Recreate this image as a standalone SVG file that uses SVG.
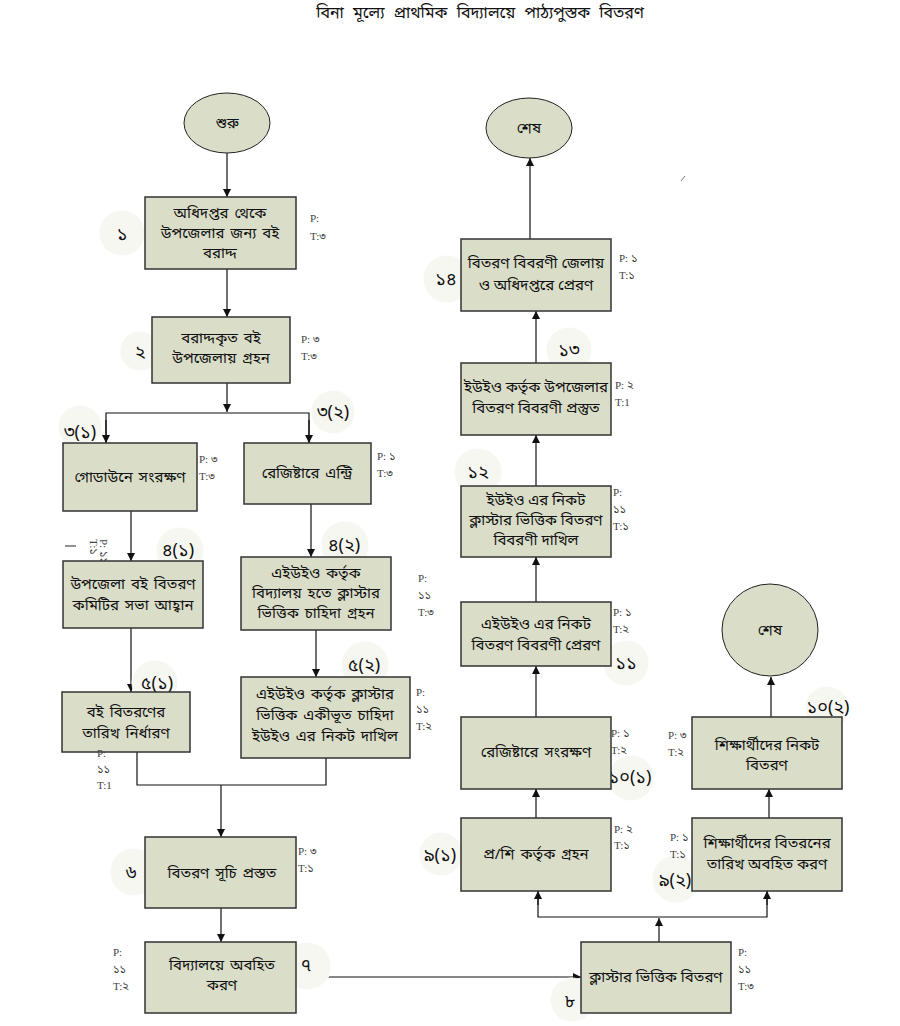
<svg xmlns="http://www.w3.org/2000/svg" width="900" height="1026" viewBox="0 0 900 1026">
<defs>
<marker id="ah" viewBox="0 0 10 10" refX="10" refY="5" markerWidth="8" markerHeight="8" markerUnits="userSpaceOnUse" orient="auto"><path d="M0,0 L10,5 L0,10 z" fill="#111"/></marker>
<style>
.box{fill:#dadec9;stroke:#333;stroke-width:1.5}
.term{fill:#dadec9;stroke:#222;stroke-width:1}
.t{font-family:"Noto Sans Bengali","Noto Serif Bengali","Lohit Bengali","Noto Sans",sans-serif;font-size:15px;word-spacing:2px;fill:#111;text-anchor:middle}
.tn{word-spacing:0px}
.pt{font-family:"Liberation Serif","Noto Sans Bengali",serif;font-size:11px;fill:#444}
.num{font-family:"Noto Sans Bengali","Noto Serif Bengali","Noto Sans",sans-serif;font-size:18px;fill:#111;text-anchor:middle}
.lc{fill:#f7f7f2;stroke:#fff;stroke-width:1}
.c{fill:none;stroke:#111;stroke-width:1.2}
.ca{fill:none;stroke:#111;stroke-width:1.2;marker-end:url(#ah)}
</style>
</defs>
<rect width="900" height="1026" fill="#fff"/>
<text x="480" y="18" class="t" style="font-size:16px;word-spacing:5px">বিনা মূল্যে প্রাথমিক বিদ্যালয়ে পাঠ্যপুস্তক বিতরণ</text>
<g id="connectors">
<line class="ca" x1="227" y1="153" x2="227" y2="197"/>
<line class="ca" x1="227" y1="269" x2="227" y2="317"/>
<line class="ca" x1="227" y1="383" x2="227" y2="412"/>
<polyline class="c" points="106,443 106,413 309,413 309,443"/>
<line class="ca" x1="106" y1="420" x2="106" y2="443"/>
<line class="ca" x1="309" y1="420" x2="309" y2="443"/>
<line class="ca" x1="131" y1="511" x2="131" y2="561"/>
<line class="ca" x1="311" y1="504" x2="311" y2="557"/>
<line class="ca" x1="131" y1="628" x2="131" y2="692"/>
<line class="ca" x1="316" y1="630" x2="316" y2="677"/>
<polyline class="c" points="137,752 137,785 326,785 326,758"/>
<line class="ca" x1="221" y1="785" x2="221" y2="837"/>
<line class="ca" x1="221" y1="908" x2="221" y2="942"/>
<line class="ca" x1="296" y1="977" x2="581" y2="977"/>
<line class="ca" x1="659" y1="942" x2="659" y2="918"/>
<polyline class="c" points="538,891 538,917 767,917 767,891"/>
<line class="ca" x1="538" y1="905" x2="538" y2="891"/>
<line class="ca" x1="767" y1="905" x2="767" y2="891"/>
<line class="ca" x1="536" y1="818" x2="536" y2="789"/>
<line class="ca" x1="769" y1="818" x2="769" y2="789"/>
<line class="ca" x1="771" y1="717" x2="771" y2="677"/>
<line class="ca" x1="536" y1="717" x2="536" y2="666"/>
<line class="ca" x1="536" y1="602" x2="536" y2="557"/>
<line class="ca" x1="536" y1="486" x2="536" y2="435"/>
<line class="ca" x1="536" y1="363" x2="536" y2="311"/>
<line class="ca" x1="530" y1="239" x2="530" y2="158"/>
</g>
<line x1="681" y1="181" x2="685" y2="176" stroke="#777" stroke-width="1"/>
<g id="start">
<ellipse class="term" cx="227" cy="123" rx="43" ry="30"/>
<text class="t" x="227" y="128">শুরু</text>
</g>
<g id="end1">
<ellipse class="term" cx="529" cy="128" rx="43" ry="30"/>
<text class="t" x="529" y="133">শেষ</text>
</g>
<g id="end2">
<ellipse class="term" cx="770" cy="630" rx="48" ry="46"/>
<text class="t" x="770" y="635">শেষ</text>
</g>
<g id="n1">
<circle class="lc" cx="122" cy="233" r="23"/>
<text class="num" x="122" y="240" font-size="20">১</text>
<rect class="box" x="145" y="197" width="151" height="72"/>
<text class="t" x="220" y="218">অধিদপ্তর থেকে</text>
<text class="t" x="220" y="238">উপজেলার জন্য বই</text>
<text class="t" x="220" y="258">বরাদ্দ</text>
<text class="pt" x="310" y="222">P:</text>
<text class="pt" x="310" y="240">T:৩</text>
</g>
<g id="n2">
<circle class="lc" cx="140" cy="351" r="20"/>
<text class="num" x="140" y="358" font-size="20">২</text>
<rect class="box" x="152" y="317" width="138" height="66"/>
<text class="t" x="221" y="343">বরাদ্দকৃত বই</text>
<text class="t" x="221" y="363">উপজেলায় গ্রহন</text>
<text class="pt" x="301" y="343">P: ৩</text>
<text class="pt" x="301" y="360">T:৩</text>
</g>
<g id="n3a">
<circle class="lc" cx="80" cy="427" r="22"/>
<text class="num" x="80" y="438">৩(১)</text>
<rect class="box" x="63" y="443" width="134" height="68"/>
<text class="t" x="130" y="482">গোডাউনে সংরক্ষণ</text>
<text class="pt" x="199" y="463">P: ৩</text>
<text class="pt" x="199" y="480">T:৩</text>
</g>
<g id="n3b">
<circle class="lc" cx="333" cy="412" r="22"/>
<text class="num" x="333" y="418">৩(২)</text>
<rect class="box" x="244" y="443" width="127" height="61"/>
<text class="t" x="307" y="478">রেজিষ্টারে এন্ট্রি</text>
<text class="pt" x="377" y="460">P: ১</text>
<text class="pt" x="377" y="477">T:৩</text>
</g>
<g id="n4a">
<circle class="lc" cx="180" cy="551" r="24"/>
<text class="num" x="178" y="556">৪(১)</text>
<line x1="65" y1="546" x2="76" y2="546" stroke="#222" stroke-width="1"/>
<text class="pt" font-size="9" transform="translate(90,539) rotate(90)">T:১</text>
<text class="pt" font-size="9" transform="translate(100,539) rotate(90)">P: ১১</text>
<rect class="box" x="63" y="561" width="140" height="67"/>
<text class="t" x="133" y="589">উপজেলা বই বিতরণ</text>
<text class="t" x="133" y="610">কমিটির সভা আহ্বান</text>
</g>
<g id="n4b">
<circle class="lc" cx="345" cy="545" r="24"/>
<text class="num" x="344" y="551">৪(২)</text>
<rect class="box" x="241" y="557" width="150" height="73"/>
<text class="t" x="316" y="578">এইউইও কর্তৃক</text>
<text class="t" x="316" y="598">বিদ্যালয় হতে ক্লাস্টার</text>
<text class="t" x="316" y="618">ভিত্তিক চাহিদা গ্রহন</text>
<text class="pt" x="418" y="582">P:</text>
<text class="pt" x="418" y="599">১১</text>
<text class="pt" x="418" y="616">T:৩</text>
</g>
<g id="n5a">
<circle class="lc" cx="155" cy="683" r="23"/>
<text class="num" x="157" y="689">৫(১)</text>
<rect class="box" x="62" y="692" width="128" height="60"/>
<text class="t" x="126" y="717">বই বিতরণের</text>
<text class="t" x="126" y="738">তারিখ নির্ধারণ</text>
<text class="pt" x="97" y="757">P:</text>
<text class="pt" x="97" y="773">১১</text>
<text class="pt" x="97" y="789">T:1</text>
</g>
<g id="n5b">
<circle class="lc" cx="365" cy="665" r="24"/>
<text class="num" x="364" y="671">৫(২)</text>
<rect class="box" x="241" y="677" width="169" height="81"/>
<text class="t" x="325" y="699">এইউইও কর্তৃক ক্লাস্টার</text>
<text class="t" x="325" y="720">ভিত্তিক একীভূত চাহিদা</text>
<text class="t" x="325" y="741">ইউইও এর নিকট দাখিল</text>
<text class="pt" x="416" y="696">P:</text>
<text class="pt" x="416" y="713">১১</text>
<text class="pt" x="416" y="730">T:২</text>
</g>
<g id="n6">
<circle class="lc" cx="134" cy="872" r="24"/>
<text class="num" x="131" y="878">৬</text>
<rect class="box" x="145" y="837" width="151" height="71"/>
<text class="t" x="222" y="878">বিতরণ সূচি প্রস্তত</text>
<text class="pt" x="298" y="855">P: ৩</text>
<text class="pt" x="298" y="872">T:১</text>
</g>
<g id="n7">
<circle class="lc" cx="307" cy="966" r="24"/>
<text class="num" x="306" y="971">৭</text>
<rect class="box" x="145" y="942" width="151" height="71"/>
<text class="t" x="222" y="970">বিদ্যালয়ে অবহিত</text>
<text class="t" x="222" y="990">করণ</text>
<text class="pt" x="113" y="956">P:</text>
<text class="pt" x="113" y="973">১১</text>
<text class="pt" x="113" y="990">T:২</text>
</g>
<g id="n8">
<circle class="lc" cx="572" cy="1000" r="22"/>
<text class="num" x="570" y="1007">৮</text>
<rect class="box" x="581" y="942" width="150" height="71"/>
<text class="t tn" x="656" y="982">ক্লাস্টার ভিত্তিক বিতরণ</text>
<text class="pt" x="738" y="956">P:</text>
<text class="pt" x="738" y="973">১১</text>
<text class="pt" x="738" y="990">T:৩</text>
</g>
<g id="n9a">
<circle class="lc" cx="441" cy="854" r="22"/>
<text class="num" x="440" y="861">৯(১)</text>
<rect class="box" x="461" y="818" width="150" height="73"/>
<text class="t" x="536" y="859">প্র/শি কর্তৃক গ্রহন</text>
<text class="pt" x="614" y="833">P: ২</text>
<text class="pt" x="614" y="849">T:১</text>
</g>
<g id="n10a">
<circle class="lc" cx="631" cy="778" r="23"/>
<text class="num" x="630" y="783">১০(১)</text>
<rect class="box" x="461" y="717" width="150" height="72"/>
<text class="t" x="536" y="757">রেজিষ্টারে সংরক্ষণ</text>
<text class="pt" x="611" y="737">P: ১</text>
<text class="pt" x="611" y="754">T:২</text>
</g>
<g id="n9b">
<circle class="lc" cx="676" cy="879" r="24"/>
<text class="num" x="675" y="886">৯(২)</text>
<rect class="box" x="692" y="818" width="150" height="73"/>
<text class="t tn" x="767" y="848">শিক্ষার্থীদের বিতরনের</text>
<text class="t tn" x="767" y="869">তারিখ অবহিত করণ</text>
<text class="pt" x="670" y="841">P: ১</text>
<text class="pt" x="670" y="858">T:১</text>
</g>
<g id="n10b">
<circle class="lc" cx="827" cy="708" r="22"/>
<text class="num" x="828" y="713">১০(২)</text>
<rect class="box" x="692" y="717" width="150" height="72"/>
<text class="t tn" x="767" y="750">শিক্ষার্থীদের নিকট</text>
<text class="t" x="767" y="770">বিতরণ</text>
<text class="pt" x="668" y="739">P: ৩</text>
<text class="pt" x="668" y="756">T:২</text>
</g>
<g id="n11">
<circle class="lc" cx="626" cy="663" r="23"/>
<text class="num" x="626" y="669">১১</text>
<rect class="box" x="461" y="602" width="150" height="64"/>
<text class="t tn" x="536" y="629">এইউইও এর নিকট</text>
<text class="t tn" x="536" y="650">বিতরণ বিবরণী প্রেরণ</text>
<text class="pt" x="613" y="616">P: ১</text>
<text class="pt" x="613" y="633">T:২</text>
</g>
<g id="n12">
<circle class="lc" cx="478" cy="472" r="24"/>
<text class="num" x="478" y="478">১২</text>
<rect class="box" x="461" y="486" width="150" height="71"/>
<text class="t tn" x="536" y="505">ইউইও এর নিকট</text>
<text class="t tn" x="536" y="525">ক্লাস্টার ভিত্তিক বিতরণ</text>
<text class="t tn" x="536" y="545">বিবরণী দাখিল</text>
<text class="pt" x="613" y="496">P:</text>
<text class="pt" x="613" y="513">১১</text>
<text class="pt" x="613" y="530">T:১</text>
</g>
<g id="n13">
<circle class="lc" cx="569" cy="350" r="23"/>
<text class="num" x="569" y="356">১৩</text>
<rect class="box" x="461" y="363" width="150" height="72"/>
<text class="t tn" x="536" y="392">ইউইও কর্তৃক উপজেলার</text>
<text class="t tn" x="536" y="413">বিতরণ বিবরণী প্রস্তুত</text>
<text class="pt" x="615" y="389">P: ২</text>
<text class="pt" x="615" y="406">T:1</text>
</g>
<g id="n14">
<circle class="lc" cx="447" cy="279" r="24"/>
<text class="num" x="446" y="285">১৪</text>
<rect class="box" x="461" y="239" width="150" height="72"/>
<text class="t tn" x="536" y="268">বিতরণ বিবরণী জেলায়</text>
<text class="t tn" x="536" y="290">ও অধিদপ্তরে প্রেরণ</text>
<text class="pt" x="619" y="262">P: ১</text>
<text class="pt" x="619" y="279">T:১</text>
</g>
</svg>
